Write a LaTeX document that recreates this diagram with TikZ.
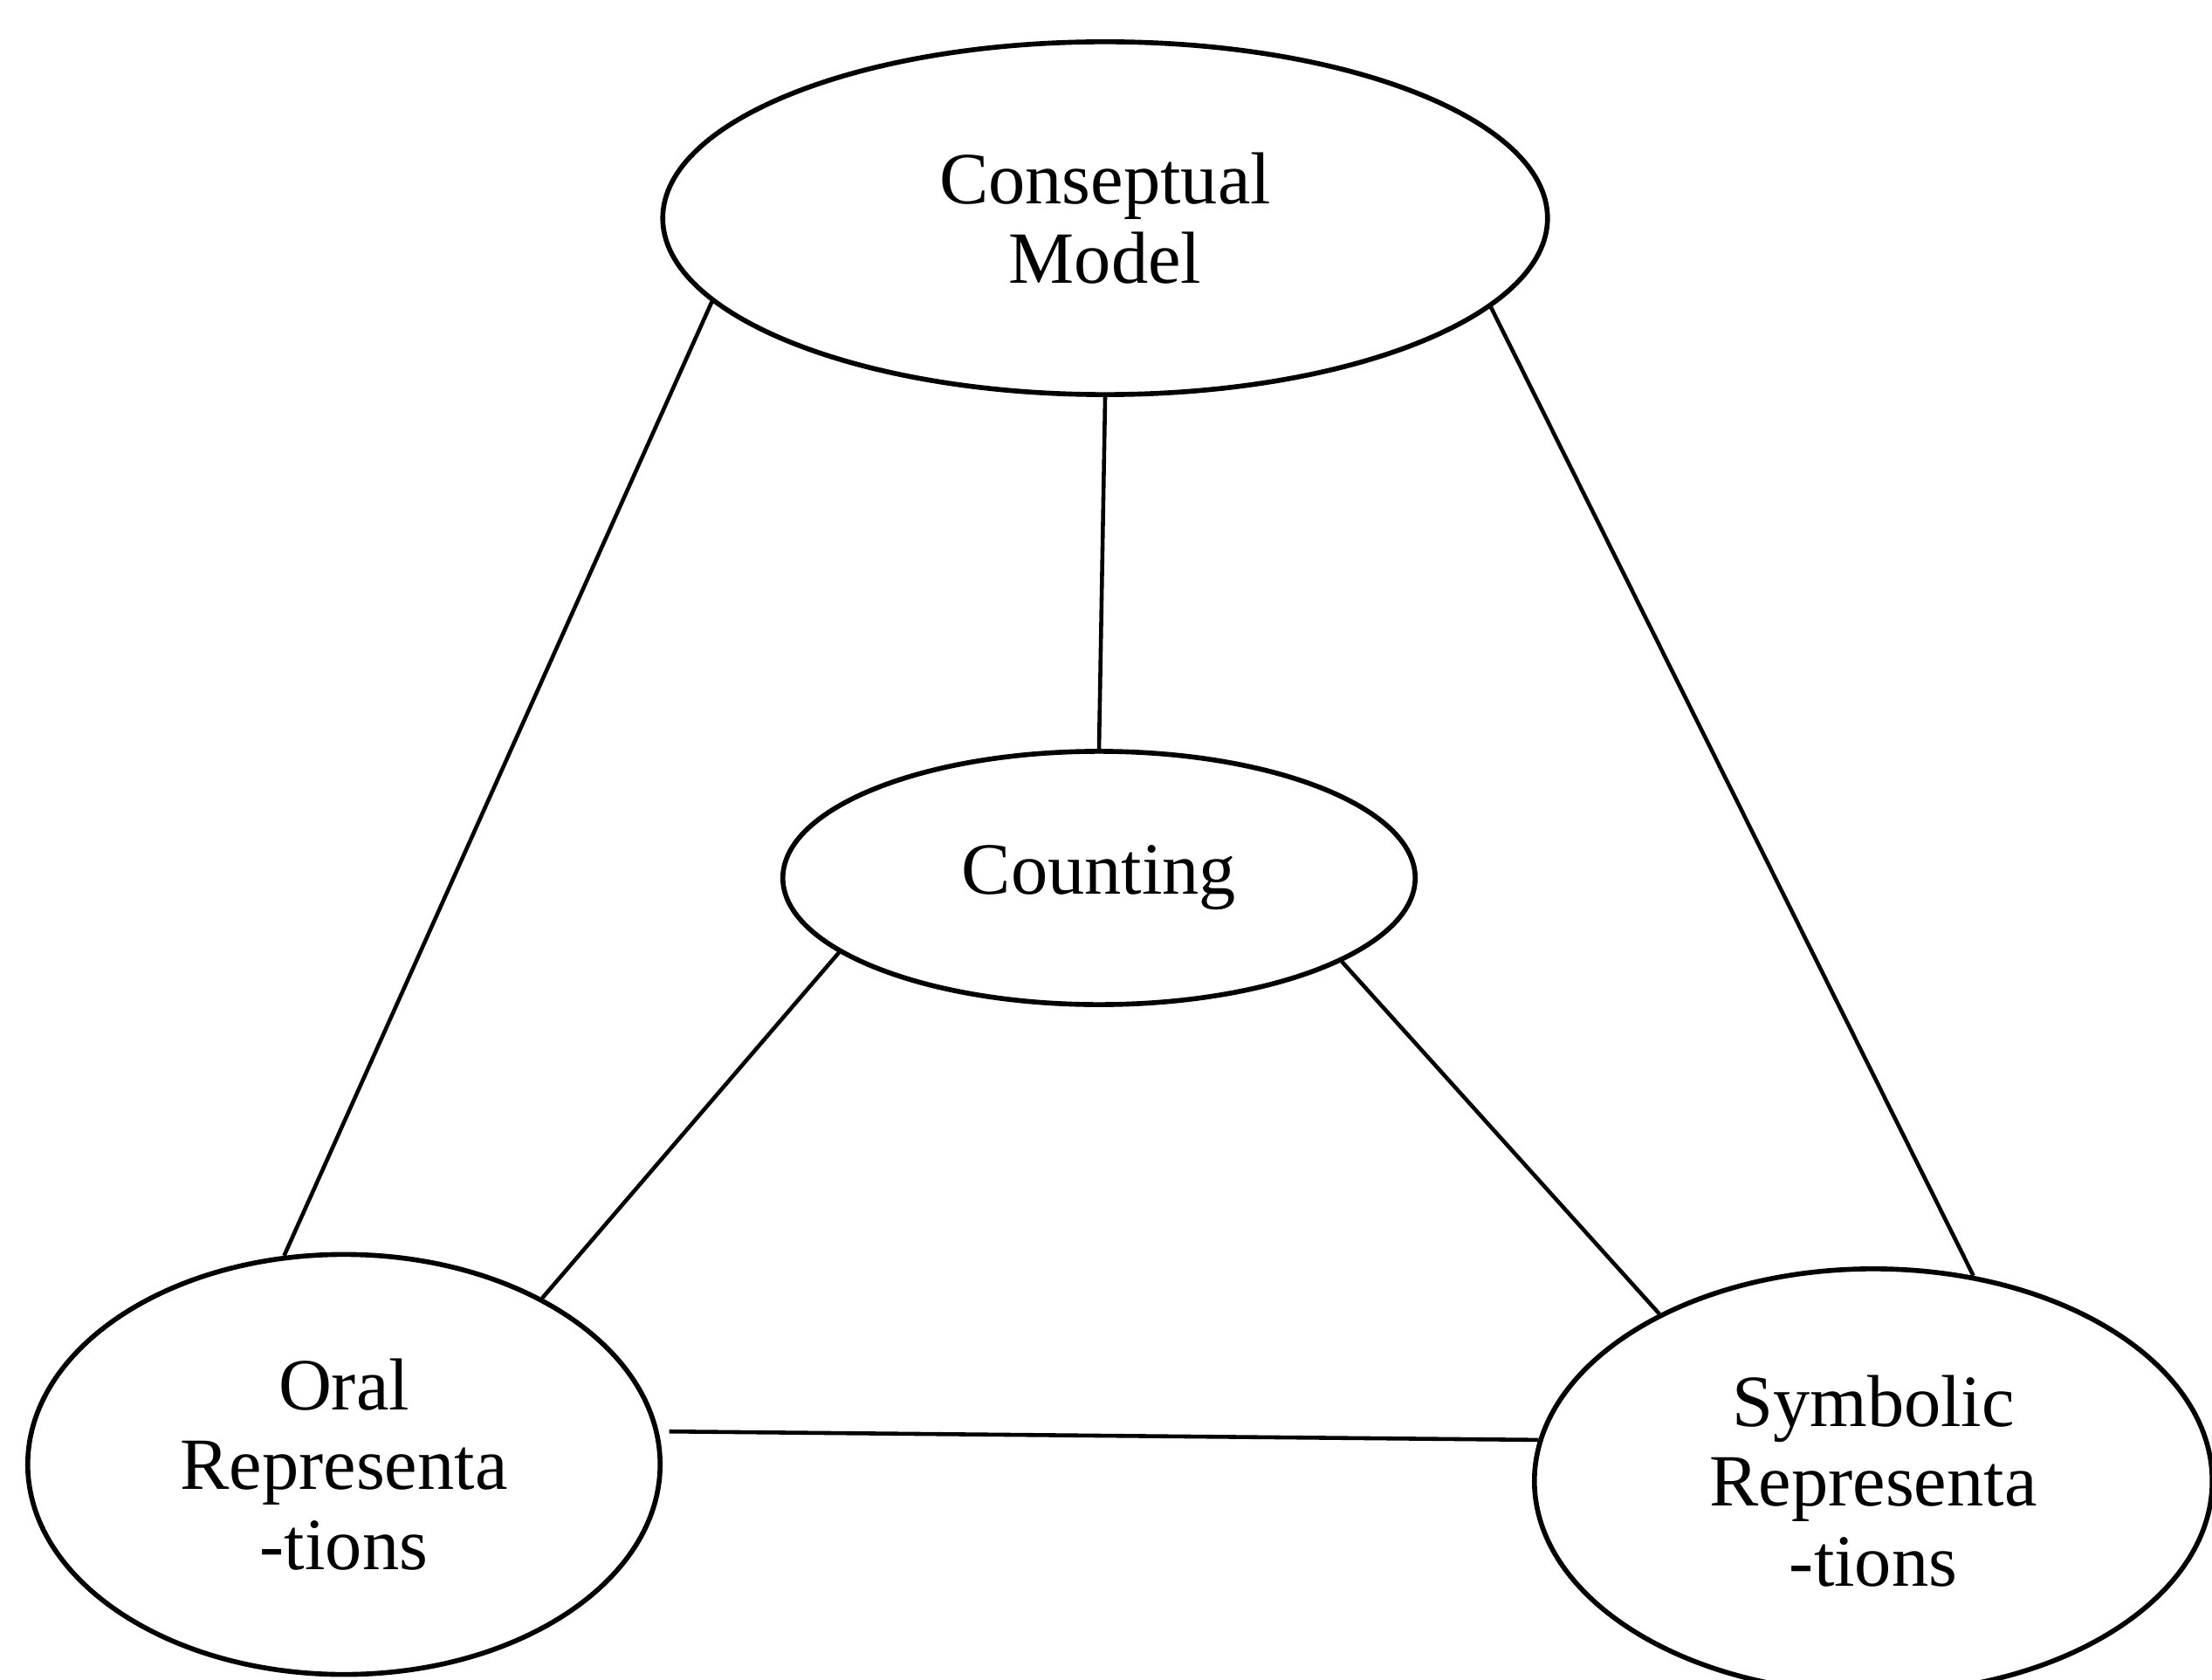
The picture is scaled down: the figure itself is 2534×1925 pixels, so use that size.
\documentclass[tikz,border=0pt]{standalone}
\usepackage{fontspec}
\setmainfont{Liberation Serif}
\usetikzlibrary{shapes.geometric}

\begin{document}
\begin{tikzpicture}[x=0.01cm,y=-0.01cm,line width=1.3pt,main node/.style={ellipse,draw,line width=1.6pt,inner sep=0pt,align=center,font=\fontsize{24}{26}\selectfont}]
                \useasboundingbox (0,0) rectangle (2534,1925);
                \node[main node,minimum width=10.13cm,minimum height=4.04cm] (model) at (1266,250) {Conseptual\\Model};
                \node[main node,minimum width=7.24cm,minimum height=2.9cm] (count) at (1259,1006) {Counting};
                \node[main node,minimum width=7.24cm,minimum height=4.81cm] (oral) at (394,1678) {Oral\\Representa\\-tions};
                \node[main node,minimum width=7.76cm,minimum height=4.86cm] (symb) at (2146,1697) {Symbolic\\Representa\\-tions};

                \path
                    (model.south) edge (count.north)
                    (model.192) edge (oral.106)
                    (model.-13) edge (symb.64)
                    (count.196) edge (oral.40)
                    (count.-19) edge (symb.142)
                    (oral.6) edge[shorten <=0.12cm] (symb.173)
                ;

            \end{tikzpicture}
\end{document}
